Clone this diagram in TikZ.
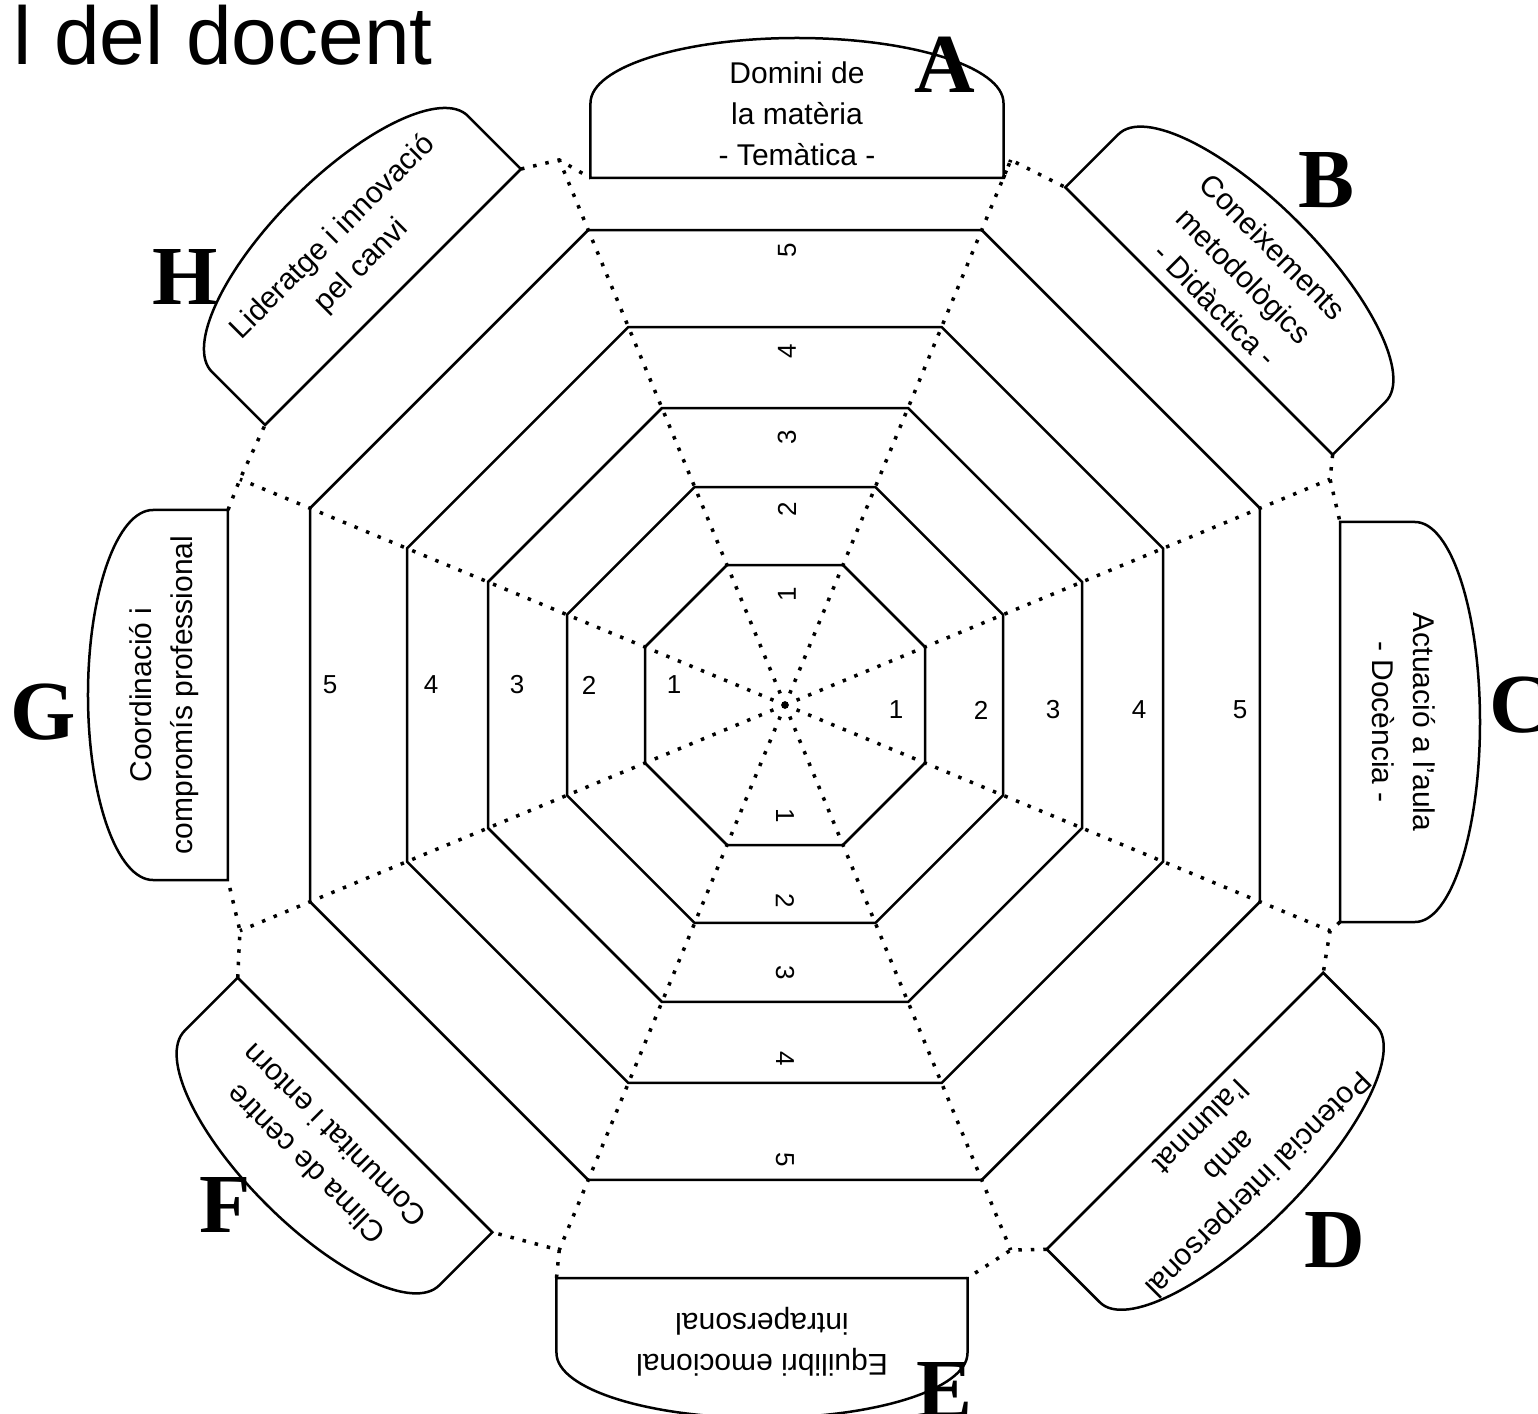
\documentclass[tikz,border=0pt]{standalone}
\usepackage{fontspec}
\setmainfont{Liberation Sans}
\newfontfamily\letterfont{Liberation Serif}
\usepackage{tikz}

\begin{document}
\begin{tikzpicture}[x=1pt, y=1pt, line width=2.5pt,
    every node/.style={inner sep=0pt, align=center}]

  \tikzstyle{ring}=[draw, line width=2.5pt, line join=miter]
  \tikzstyle{spoke}=[draw, line width=3.5pt, dash pattern=on 3.5pt off 9pt]
  \tikzstyle{tab}=[draw, fill=white, line width=2.5pt]
  \tikzstyle{tabtext}=[font=\fontsize{30}{41}\selectfont]
  \tikzstyle{letter}=[font=\fontsize{84}{84}\letterfont\bfseries]
  \tikzstyle{grade}=[font=\fontsize{26}{26}\selectfont]

  \useasboundingbox (-785,705) rectangle (753,-708);

  \coordinate (centre) at (0,0);

  \node[anchor=base west, font=\fontsize{82}{82}\selectfont] (title) at (-773,640) {l del docent};

  \foreach \k in {1,...,8}
    \coordinate (out\k) at ({112.5-45*\k}:590);
  \foreach \k in {1,...,8}
    \draw[spoke] (centre) -- (out\k);

  \foreach \a in {140,218,297,378,475}
    \draw[ring] (22.5:{\a/cos(22.5)}) \foreach \k in {1,...,7} {-- ({22.5+45*\k}:{\a/cos(22.5)})} -- cycle;

  \foreach \mx/\my/\ang/\w/\txt [count=\i] in {
      12/527/90/413/{Domini de\\la matèria\\- Temàtica -},
      414/384/45/378/{Coneixements\\metodològics\\- Didàctica -},
      555/-17/0/400/{Actuació a l'aula\\- Docència -},
      400/-406/-45/391/{Potencial interpersonal\\amb\\l'alumnat},
      -23/-573/-90/411/{Equilibri emocional\\intrapersonal},
      -420/-400/-135/360/{Clima de centre\\Comunitat i entorn},
      -557/10/180/370/{Coordinació i\\compromís professional},
      -392/408/135/362/{Lideratge i innovació\\pel canvi}}
  {
    \begin{scope}[shift={(\mx,\my)}, rotate=\ang-90]
      \coordinate (l\i) at ({-\w/2},0);
      \coordinate (r\i) at ({\w/2},0);
      \draw[tab] (l\i) -- ({-\w/2},75) arc[start angle=180, end angle=0, x radius=\w/2, y radius=65] -- (r\i) -- cycle;
      \node[tabtext, rotate=\ang-90] (tab\i) at (0,64) {\txt};
    \end{scope}
  }

  \foreach \i [evaluate=\i as \j using {int(mod(\i,8)+1)}] in {1,...,8}
    \draw[spoke] (r\i) -- (out\i) -- (l\j);

  \foreach \n/\d in {1/111,2/196,3/268,4/354,5/455} {
    \node[grade] (w\n) at (-\d,20) {\n};
    \node[grade] (e\n) at (\d,-5) {\n};
    \node[grade, rotate=90] (n\n) at (2,\d) {\n};
    \node[grade, rotate=-90] (s\n) at (0,-\d) {\n};
  }

  \node[letter] (A) at (160,640) {A};
  \node[letter] (B) at (542,525) {B};
  \node[letter] (C) at (735,0) {C};
  \node[letter] (D) at (550,-535) {D};
  \node[letter] (E) at (160,-685) {E};
  \node[letter] (F) at (-560,-500) {F};
  \node[letter] (G) at (-742,-7) {G};
  \node[letter] (H) at (-600,428) {H};
\end{tikzpicture}
\end{document}
